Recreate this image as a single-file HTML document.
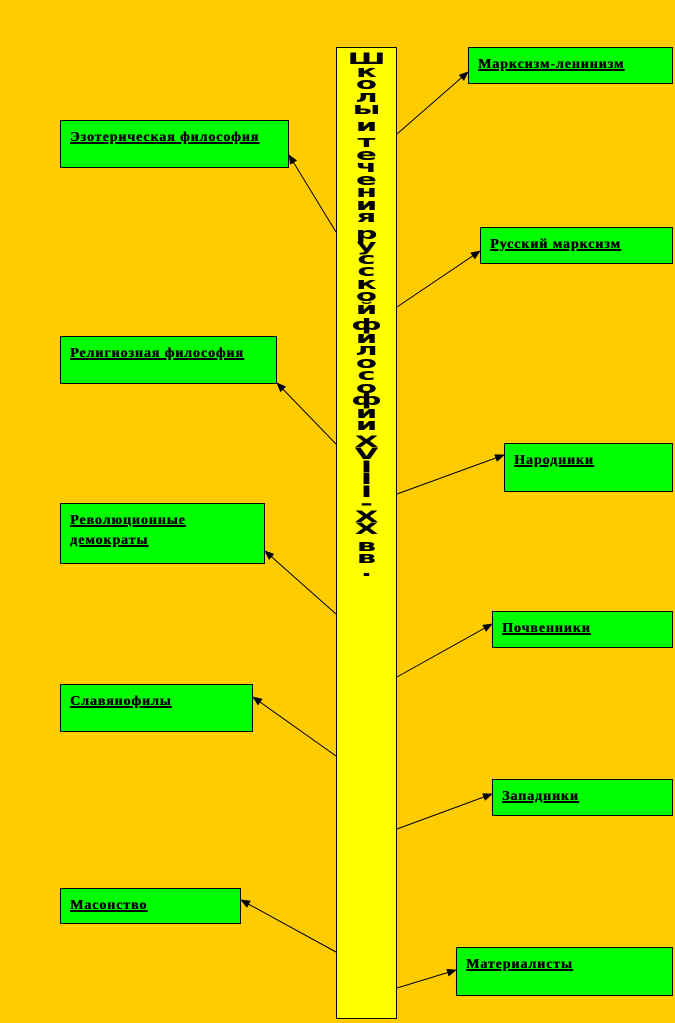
<!DOCTYPE html>
<html><head><meta charset="utf-8"><style>
body{margin:0;width:675px;height:1023px;background:#ffcc00;position:relative;overflow:hidden}
.b{position:absolute;background:#00ff00;border:1px solid #000;box-sizing:border-box;padding:7px 9px;font:bold 14px/20px "Liberation Serif",serif;letter-spacing:0.9px;color:#000;text-shadow:0.5px 0 0 #000}
.b span{text-decoration:underline;text-decoration-thickness:2px}
#bar{position:absolute;left:336px;top:47px;width:61px;height:972px;background:#ffff00;border:1px solid #000;box-sizing:border-box}
.c{position:absolute;left:0;width:59px;text-align:center;font:bold 22px/13px "DejaVu Sans","Liberation Sans",sans-serif;transform:scale(1.4,0.72);height:13px}
svg{position:absolute;left:0;top:0}
</style></head><body>
<svg width="675" height="1023">
<defs><marker id="a" markerWidth="10" markerHeight="8" refX="9" refY="4" orient="auto" markerUnits="userSpaceOnUse"><path d="M0,0L10,4L0,8z" fill="#000"/></marker></defs>
<g stroke="#000" stroke-width="1" marker-end="url(#a)">
<line x1="336" y1="232" x2="289" y2="155"/>
<line x1="336" y1="444" x2="277" y2="383"/>
<line x1="336" y1="614" x2="265" y2="551"/>
<line x1="336" y1="756" x2="253" y2="697"/>
<line x1="336" y1="952" x2="241" y2="900"/>
<line x1="397" y1="134" x2="468" y2="72"/>
<line x1="397" y1="307" x2="480" y2="251"/>
<line x1="397" y1="494" x2="504" y2="455"/>
<line x1="397" y1="677" x2="492" y2="624"/>
<line x1="397" y1="829" x2="492" y2="794"/>
<line x1="397" y1="988" x2="456" y2="970"/>
</g></svg>
<div id="bar"></div>
<div class="b" style="left:60px;top:120px;width:229px;height:48px"><span>Эзотерическая философия</span></div>
<div class="b" style="left:60px;top:336px;width:217px;height:48px"><span>Религиозная философия</span></div>
<div class="b" style="left:60px;top:503px;width:205px;height:61px"><span>Революционные<br>демократы</span></div>
<div class="b" style="left:60px;top:684px;width:193px;height:48px"><span>Славянофилы</span></div>
<div class="b" style="left:60px;top:888px;width:181px;height:36px"><span>Масонство</span></div>
<div class="b" style="left:468px;top:47px;width:205px;height:37px"><span>Марксизм-ленинизм</span></div>
<div class="b" style="left:480px;top:227px;width:193px;height:37px"><span>Русский марксизм</span></div>
<div class="b" style="left:504px;top:443px;width:169px;height:49px"><span>Народники</span></div>
<div class="b" style="left:492px;top:611px;width:181px;height:37px"><span>Почвенники</span></div>
<div class="b" style="left:492px;top:779px;width:181px;height:37px"><span>Западники</span></div>
<div class="b" style="left:456px;top:947px;width:217px;height:49px"><span>Материалисты</span></div>
<div id="letters" style="position:absolute;left:337px;top:0;width:59px"></div>
<script>
var s="Школы|и|течения|русской|философии|XVIII-XX|вв.";
var y=53,h="";
s.split("|").forEach(function(w,i){
 if(i)y+=4;
 for(var k=0;k<w.length;k++){h+='<div class="c" style="top:'+y+'px">'+w[k]+'</div>';y+=12.5;}
});
document.getElementById("letters").innerHTML=h;
</script>
</body></html>
